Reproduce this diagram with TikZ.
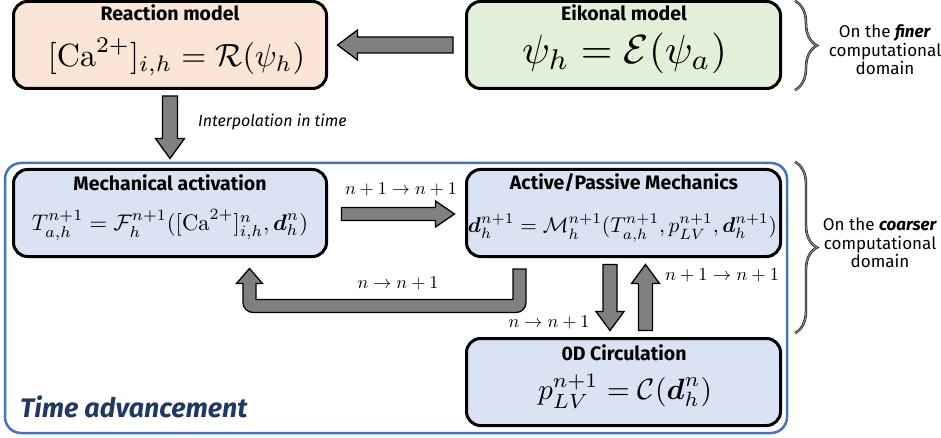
\documentclass[tikz,border=0pt]{standalone}
\usepackage{amsmath}
\usepackage{fontspec}
\newfontfamily\fira{Fira Sans}
\usetikzlibrary{calc,decorations.pathreplacing}
\definecolor{peach}{HTML}{FBE5D6}
\definecolor{mint}{HTML}{E2F0D9}
\definecolor{paleblue}{HTML}{DAE3F3}
\definecolor{frameblue}{HTML}{4472C4}
\definecolor{navy}{HTML}{1F3864}
\definecolor{arrowgray}{HTML}{808080}
\begin{document}
\begin{tikzpicture}[x=1pt,y=-1pt,
  box/.style={draw=black, line width=3pt, rounded corners=14pt, minimum width=313pt, minimum height=87pt, inner sep=0pt},
  boxtitle/.style={font=\fira\bfseries\fontsize{19.5}{22}\selectfont, inner sep=0pt, anchor=base},
  formula/.style={inner sep=0pt},
  barrow/.style={draw=black, fill=arrowgray, line width=1.3pt, line join=miter},
  lbl/.style={inner sep=0pt},
  bracestyle/.style={decorate, decoration={brace, amplitude=22pt, aspect=0.5}, draw=black, double=arrowgray, double distance=1.4pt, line width=0.5pt},
  side/.style={font=\fira\fontsize{17}{18.5}\selectfont, align=center, inner sep=0pt}]
\useasboundingbox (0,0) rectangle (941,438);

% time advancement frame
\node[draw=frameblue, line width=2.5pt, rounded corners=16pt, minimum width=782pt, minimum height=270pt, inner sep=0pt] (frame) at (396,298) {};

% boxes
\node[box, fill=peach] (react) at (170,45) {};
\node[box, fill=mint, minimum width=314pt] (eik) at (623.5,45) {};
\node[box, fill=paleblue] (mech) at (170,213) {};
\node[box, fill=paleblue, minimum width=314pt] (act) at (623.5,213) {};
\node[box, fill=paleblue, minimum width=314pt] (circ) at (623.5,382) {};

% titles
\node[boxtitle] (treact) at (170,21) {Reaction model};
\node[boxtitle] (teik) at (624,21) {Eikonal model};
\node[boxtitle] (tmech) at (170,191) {Mechanical activation};
\node[boxtitle] (tact) at (624,190) {Active/Passive Mechanics};
\node[boxtitle] (tcirc) at (624,360) {0D Circulation};

% formulas
\node[formula] (freact) at (176.5,57) {\resizebox{257pt}{!}{$[\mathrm{Ca}^{2+}]_{i,h}=\mathcal{R}(\psi_h)$}};
\node[formula] (feik) at (624.5,53) {\resizebox{205pt}{!}{$\psi_h=\mathcal{E}(\psi_a)$}};
\node[formula] (fmech) at (170,225) {\resizebox{276pt}{!}{$T_{a,h}^{n+1}=\mathcal{F}_h^{n+1}([\mathrm{Ca}^{2+}]_{i,h}^{n},\boldsymbol{d}_h^{n})$}};
\node[formula] (fact) at (622.5,228) {\resizebox{309pt}{!}{$\boldsymbol{d}_h^{n+1}=\mathcal{M}_h^{n+1}(T_{a,h}^{n+1},p_{LV}^{n+1},\boldsymbol{d}_h^{n+1})$}};
\node[formula] (fcirc) at (625,391) {\resizebox{174pt}{!}{$p_{LV}^{n+1}=\mathcal{C}(\boldsymbol{d}_h^{n})$}};

% arrow: eikonal -> reaction
\coordinate (a1t) at ($(react.east)+(9.5,0)$);
\coordinate (a1s) at ($(eik.west)+(-12,0)$);
\draw[barrow] (a1t) -- ++(20,-15) -- ++(0,7) -- ($(a1s)+(0,-8)$) -- ++(0,16) -- ($(a1t)+(20,8)$) -- ++(0,7) -- cycle;

% arrow: reaction -> mech
\coordinate (a2s) at ($(react.south)+(0,6)$);
\coordinate (a2t) at ($(mech.north)+(0,-9.5)$);
\draw[barrow] (a2t) -- ++(-14.5,-20) -- ++(7,0) -- ($(a2s)+(-7.5,0)$) -- ++(15,0) -- ($(a2t)+(7.5,-20)$) -- ++(7,0) -- cycle;
\node[font=\fira\itshape\fontsize{16}{19}\selectfont, anchor=west, inner sep=0pt] (interp) at (198,122) {Interpolation in time};

% arrow: mech -> active
\coordinate (a3s) at ($(mech.east)+(13.5,1)$);
\coordinate (a3t) at ($(act.west)+(-10.5,1)$);
\draw[barrow] (a3t) -- ++(-19,-13) -- ++(0,6.5) -- ($(a3s)+(0,-6.5)$) -- ++(0,13) -- ($(a3t)+(-19,6.5)$) -- ++(0,6.5) -- cycle;
\node[lbl] (l3) at (401,189) {\resizebox{112pt}{!}{$n+1\to n+1$}};

% L arrow: active -> mech
\coordinate (a4s) at ($(act.south west)+(54.5,11)$);
\coordinate (a4t) at ($(mech.south west)+(237.5,10.5)$);
\draw[barrow] (a4t) -- ++(13,15) -- ++(-6.5,0) -- ($(a4t)+(6.5,31)$) -- ($(a4s)+(-6.5,30.5)$) -- ($(a4s)+(-6.5,0)$) -- ++(13,0)
  [rounded corners=10pt] -- ($(a4s)+(6.5,43.5)$) -- ($(a4t)+(-6.5,44)$) [sharp corners] -- ($(a4t)+(-6.5,15)$) -- ++(-6.5,0) -- cycle;
\node[lbl] (l4) at (398,283) {\resizebox{81pt}{!}{$n\to n+1$}};

% arrow: active -> circulation
\coordinate (a5s) at ($(act.south)+(-13.5,6.5)$);
\coordinate (a5t) at ($(circ.north)+(-13.5,-6.5)$);
\draw[barrow] (a5t) -- ++(-14,-19) -- ++(7,0) -- ($(a5s)+(-7,0)$) -- ++(14,0) -- ($(a5t)+(7,-19)$) -- ++(7,0) -- cycle;
\node[lbl] (l5) at (549,322) {\resizebox{81pt}{!}{$n\to n+1$}};

% arrow: circulation -> active
\coordinate (a6s) at ($(circ.north)+(22,-6.5)$);
\coordinate (a6t) at ($(act.south)+(22,6.5)$);
\draw[barrow] (a6t) -- ++(-14,19) -- ++(7,0) -- ($(a6s)+(-7,0)$) -- ++(14,0) -- ($(a6t)+(7,19)$) -- ++(7,0) -- cycle;
\node[lbl] (l6) at (722,275) {\resizebox{114pt}{!}{$n+1\to n+1$}};

% time advancement label
\node[font=\fira\bfseries\itshape\fontsize{26.8}{31}\selectfont, text=navy, anchor=base west, inner sep=0pt] (tadv) at (20,417) {Time advancement};

% braces
\coordinate (b1a) at (795,1);
\coordinate (b1b) at (795,90);
\draw[bracestyle] (b1a) -- (b1b);
\node[side] (finer) at (885,50) {On the \textbf{\textit{finer}}\\computational\\domain};
\coordinate (b2a) at (795,162);
\coordinate (b2b) at (795,333);
\draw[bracestyle] (b2a) -- (b2b);
\node[side] (coarser) at (880,243) {On the \textbf{\textit{coarser}}\\computational\\domain};
\end{tikzpicture}
\end{document}
